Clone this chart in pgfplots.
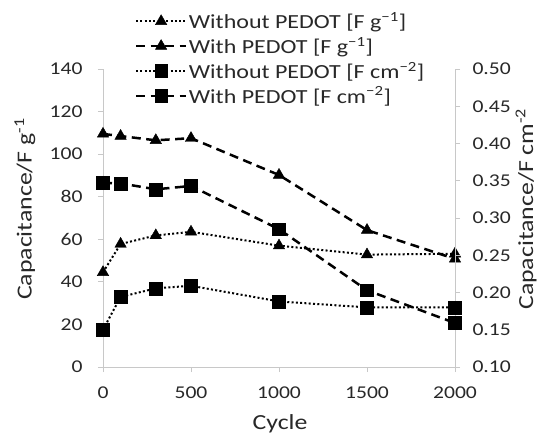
\documentclass[border=0pt]{standalone}
\usepackage{fontspec}
\setmainfont{Carlito}[FakeStretch=1.2]
\usepackage{pgfplots}
\pgfplotsset{compat=1.18}
\definecolor{axgrey}{RGB}{200,200,200}
\definecolor{txtgrey}{RGB}{40,40,40}

\pgfplotsset{
  capbase/.style={
    width=352pt, height=298pt, scale only axis,
    xmin=0, xmax=2000, clip=false,
    /pgf/number format/assume math mode=true,
    /pgf/number format/set thousands separator={},
    tick label style={font=\fontsize{18}{21}\selectfont, color=txtgrey},
    label style={font=\fontsize{21.5}{25}\selectfont, color=txtgrey},
    axis line style={axgrey, line width=0.8pt},
    major tick style={axgrey, line width=0.8pt},
    tick align=outside, major tick length=5pt,
  },
  dotline/.style={black, line width=2pt, dash pattern=on 2pt off 2.3pt},
  dashline/.style={black, line width=2.5pt, dash pattern=on 9pt off 5.5pt},
  tri/.style={mark=triangle*, mark size=6.6pt, mark options={solid, fill=black, line width=0.4pt}},
  sq/.style={mark=square*, mark size=6.4pt, mark options={solid, fill=black, line width=0.4pt}},
}

\begin{document}
\begin{tikzpicture}
  % left axis: F g^-1
  \begin{axis}[
      capbase, name=ax,
      axis x line*=bottom, axis y line*=left,
      ymin=0, ymax=140, ytick={0,20,...,140},
      xtick={0,500,1000,1500,2000},
      yticklabel style={xshift=-12pt},
      xticklabel style={yshift=-11pt},
      xlabel={Cycle},
      ylabel={Capacitance/F g\textsuperscript{-1}},
      xlabel style={at={(axis description cs:0.503,-0.19)}, anchor=center},
      ylabel style={at={(axis description cs:-0.222,0.53)}, anchor=center},
    ]
    \addplot[dotline, tri] coordinates {
      (0,44.5) (100,57.8) (300,61.8) (500,63.5) (1000,57) (1500,52.8) (2000,53.2)
    };
    \addplot[dashline, tri] coordinates {
      (0,109.5) (100,108.5) (300,106.5) (500,107.5) (1000,90.2) (1500,64.3) (2000,50.8)
    };
  \end{axis}

  % right axis: F cm^-2
  \begin{axis}[
      capbase,
      axis x line=none, axis y line*=right,
      ymin=0.10, ymax=0.50, ytick={0.10,0.15,...,0.50},
      yticklabel style={xshift=9pt, /pgf/number format/.cd, fixed, fixed zerofill, precision=2},
      ylabel={Capacitance/F cm\textsuperscript{-2}},
      ylabel style={at={(axis description cs:1.202,0.53)}, anchor=center},
      legend style={at={(axis description cs:0.09,1.196)}, anchor=north west,
        draw=none, fill=none, font=\fontsize{20}{24}\selectfont,
        row sep=3.8pt, text=txtgrey, inner sep=0pt, nodes={inner sep=1.5pt}},
      legend cell align=left,
      legend image code/.code={
        \draw[mark repeat=2, mark phase=2, #1] plot coordinates {(0pt,0pt) (25pt,0pt) (50pt,0pt)};
      },
    ]
    \addlegendimage{dotline, tri}
    \addlegendentry{Without PEDOT [F g\textsuperscript{−1}]}
    \addlegendimage{dashline, tri}
    \addlegendentry{With PEDOT [F g\textsuperscript{−1}]}
    \addplot[dotline, sq] coordinates {
      (0,0.150) (100,0.194) (300,0.2056) (500,0.209) (1000,0.188) (1500,0.180) (2000,0.180)
    };
    \addlegendentry{Without PEDOT [F cm\textsuperscript{−2}]}
    \addplot[dashline, sq] coordinates {
      (0,0.347) (100,0.3465) (300,0.3385) (500,0.343) (1000,0.285) (1500,0.203) (2000,0.159)
    };
    \addlegendentry{With PEDOT [F cm\textsuperscript{−2}]}
  \end{axis}

  \pgfresetboundingbox
  \path (ax.south west) ++(-103pt,-69pt) rectangle ++(540pt,436pt);
\end{tikzpicture}
\end{document}
